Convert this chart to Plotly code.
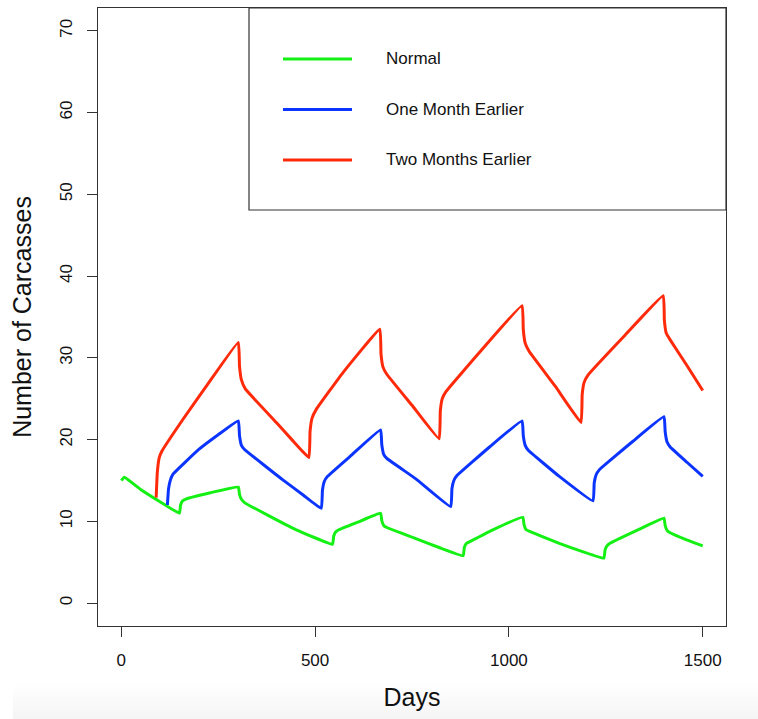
import plotly.graph_objects as go

# ---------------- data ----------------
series_names = ["Normal", "One Month Earlier", "Two Months Earlier"]
series_colors = ["#14f014", "#0b35ff", "#ff2a0a"]

normal_days = [0, 8, 50, 100, 150, 153, 158, 165, 230, 302, 305, 310, 318, 380, 450,
               545, 548, 553, 560, 610, 669, 672, 677, 685, 760, 820, 882, 885, 890,
               898, 960, 1036, 1039, 1044, 1052, 1130, 1190, 1245, 1248, 1253, 1260,
               1330, 1400, 1403, 1408, 1416, 1460, 1500]
normal_vals = [15.0, 15.4, 13.9, 12.4, 11.0, 12.0, 12.5, 12.7, 13.5, 14.2, 13.3, 12.7,
               12.3, 10.7, 9.0, 7.2, 8.2, 8.7, 8.95, 9.9, 11.0, 10.1, 9.5, 9.25, 7.9,
               6.8, 5.8, 6.8, 7.3, 7.5, 9.0, 10.5, 9.6, 9.0, 8.8, 7.3, 6.3, 5.5, 6.5,
               7.0, 7.3, 8.9, 10.4, 9.5, 8.9, 8.6, 7.7, 7.0]

one_days = [119, 122, 127, 134, 200, 250, 302, 305, 310, 318, 416, 470, 516, 519, 524,
            532, 589, 669, 672, 677, 685, 760, 850, 853, 858, 866, 950, 1034, 1037,
            1042, 1050, 1130, 1217, 1220, 1225, 1233, 1320, 1400, 1403, 1408, 1416,
            1460, 1500]
one_vals = [12.0, 14.0, 15.1, 15.8, 18.8, 20.6, 22.3, 20.5, 19.3, 18.8, 15.1, 13.2,
            11.6, 13.8, 14.9, 15.5, 17.9, 21.2, 19.4, 18.2, 17.7, 15.2, 11.8, 14.0,
            15.0, 15.6, 19.1, 22.3, 20.5, 19.3, 18.7, 15.5, 12.5, 14.7, 15.7, 16.3,
            19.8, 22.8, 21.0, 19.7, 19.1, 17.2, 15.5]

two_days = [90, 93, 98, 105, 158, 219, 302, 305, 310, 320, 400, 440, 484, 487, 492,
            503, 572, 667, 670, 675, 685, 750, 820, 823, 828, 838, 930, 1034, 1037,
            1042, 1052, 1120, 1186, 1189, 1194, 1204, 1300, 1398, 1401, 1406, 1416,
            1460, 1500]
two_vals = [12.9, 16.0, 17.8, 18.6, 22.4, 26.5, 31.9, 29.0, 27.3, 26.2, 22.1, 20.0,
            17.8, 21.0, 22.6, 23.7, 28.2, 33.5, 30.5, 28.9, 28.0, 24.2, 20.1, 23.5,
            25.0, 25.9, 31.0, 36.4, 33.5, 31.8, 30.8, 26.5, 22.1, 25.5, 27.0, 27.9,
            32.8, 37.6, 34.6, 33.0, 32.2, 29.0, 26.0]

x_ticks = [0, 500, 1000, 1500]
y_ticks = [0, 10, 20, 30, 40, 50, 60, 70]

all_days = [normal_days, one_days, two_days]
all_vals = [normal_vals, one_vals, two_vals]

# ---------------- figure ----------------
FONT = "Liberation Sans, Arial, Helvetica, sans-serif"
fig = go.Figure()
for name, col, d, v in zip(series_names, series_colors, all_days, all_vals):
    fig.add_trace(go.Scatter(x=d, y=v, mode="lines", name=name,
                             line=dict(color=col, width=3, shape="spline", smoothing=0.3),
                             showlegend=False))

W, H = 758, 719
ml, mr, mt, mb = 98, 32, 8, 93
pw, ph = W - ml - mr, H - mt - mb


def px_x(p):
    return (p - ml) / pw


def px_y(p):
    return (H - mb - p) / ph


shapes = []
# faint bottom gradient of the screenshot
n = 10
for i in range(n):
    y0 = 684 + i * (719 - 684) / n
    shapes.append(dict(type="rect", xref="paper", yref="paper",
                       x0=px_x(13), x1=px_x(758), y0=px_y(y0), y1=px_y(719),
                       fillcolor="rgba(0,0,0,0.0055)", line=dict(width=0), layer="below"))

# legend box
shapes.append(dict(type="rect", xref="paper", yref="paper",
                   x0=px_x(249), x1=1, y0=px_y(210), y1=1,
                   line=dict(color="#333333", width=1.2), fillcolor="white"))
annotations = []
for i, (name, col) in enumerate(zip(series_names, series_colors)):
    yy = 59 + i * 50.5
    shapes.append(dict(type="line", xref="paper", yref="paper",
                       x0=px_x(283), x1=px_x(352), y0=px_y(yy), y1=px_y(yy),
                       line=dict(color=col, width=3)))
    annotations.append(dict(xref="paper", yref="paper", x=px_x(384), y=px_y(yy),
                            text=name, showarrow=False, xanchor="left", yanchor="middle",
                            font=dict(family=FONT, size=17, color="#111111")))

fig.update_layout(
    width=W, height=H,
    margin=dict(l=ml, r=mr, t=mt, b=mb),
    paper_bgcolor="white", plot_bgcolor="white",
    font=dict(family=FONT, color="#111111"),
    shapes=shapes, annotations=annotations,
    xaxis=dict(range=[-60, 1560], tickvals=x_ticks, ticktext=[str(t) for t in x_ticks],
               showgrid=False, zeroline=False, showline=True, mirror=True,
               linecolor="#333333", linewidth=1.2, ticks="outside", ticklen=10,
               tickcolor="#333333", tickfont=dict(size=17, family=FONT),
               ticklabelstandoff=8,
               title=dict(text="Days", font=dict(size=25, family=FONT), standoff=19)),
    yaxis=dict(range=[-2.8, 72.8], tickvals=y_ticks, ticktext=[str(t) for t in y_ticks],
               showgrid=False, zeroline=False, showline=True, mirror=True,
               linecolor="#333333", linewidth=1.2, ticks="outside", ticklen=10,
               tickcolor="#333333", tickfont=dict(size=17, family=FONT), tickangle=-90,
               ticklabelstandoff=8,
               title=dict(text="Number of Carcasses", font=dict(size=25, family=FONT),
                          standoff=18)),
)

fig.write_html("out.html")
